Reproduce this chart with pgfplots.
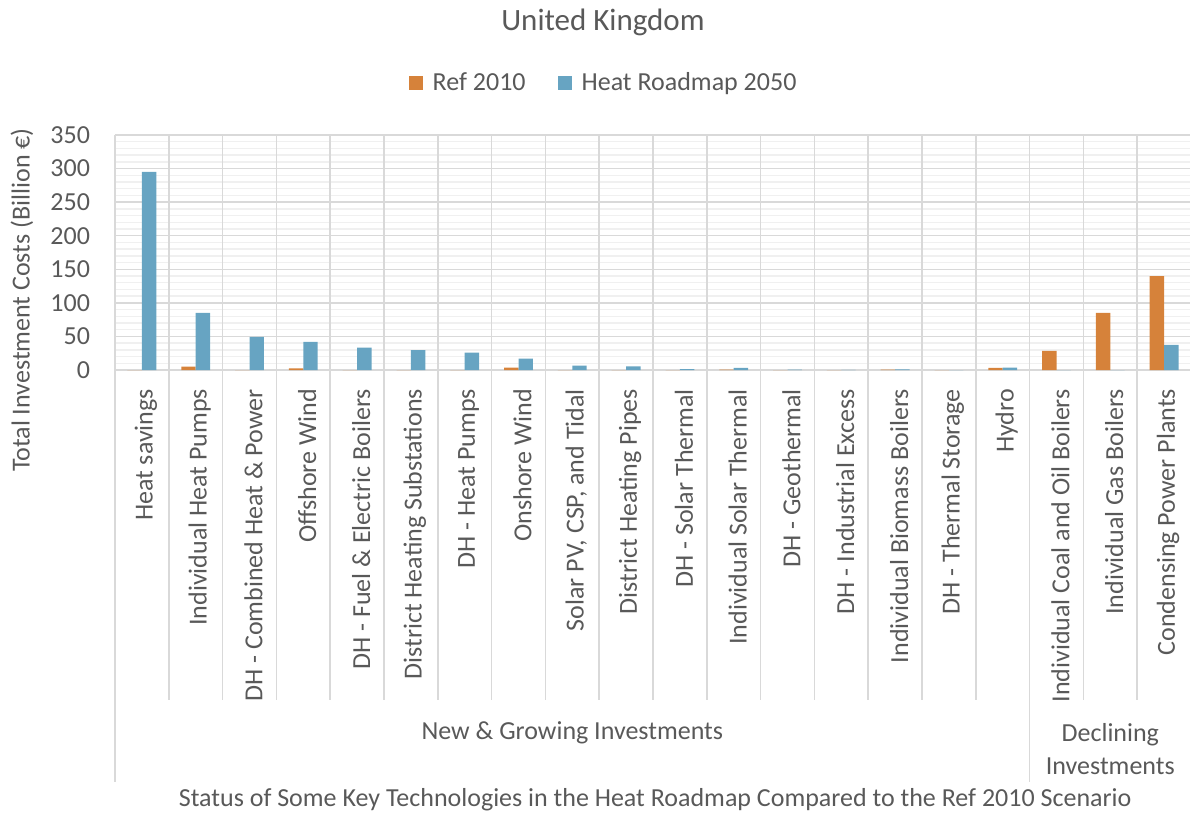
\documentclass[border=0pt]{standalone}
\usepackage{pgfplots}
\pgfplotsset{compat=1.18}
\usepackage{pgfplotstable}
\usepackage{fontspec}
\setmainfont{Carlito}

\definecolor{refc}{HTML}{D6823A}
\definecolor{hrc}{HTML}{67A4C2}
\definecolor{txt}{HTML}{595959}
\definecolor{majg}{HTML}{D9D9D9}
\definecolor{ming}{HTML}{F0F0F0}

% investment costs, billion EUR
\pgfplotstableread{
idx ref hr
0  0    295
1  5    85
2  0    49.5
3  2.5  42
4  0    33.5
5  0    29.5
6  0    26
7  3.5  17
8  0    6.5
9  0    5.5
10 0    1.5
11 0.5  3
12 0    0.7
13 0    0.3
14 0.5  1
15 0    0
16 3    3.5
17 28.5 0
18 85   0
19 140  37.5
}\costs

\begin{document}
\begin{tikzpicture}
\begin{axis}[
    name=ax,
    scale only axis,
    width=538pt, height=117.5pt,
    xmin=-0.5, xmax=19.5,
    ymin=0, ymax=350,
    clip=false,
    ybar=0pt, bar width=7.2pt,
    axis x line*=bottom, axis y line*=left,
    axis line style={majg, line width=0.75pt, -},
    xtick={0,...,19},
    xticklabels={Heat savings, Individual Heat Pumps, DH - Combined Heat \& Power,
      Offshore Wind, DH - Fuel \& Electric Boilers, District Heating Substations,
      DH - Heat Pumps, Onshore Wind, {Solar PV, CSP, and Tidal}, District Heating Pipes,
      DH - Solar Thermal, Individual Solar Thermal, DH - Geothermal,
      DH - Industrial Excess, Individual Biomass Boilers, DH - Thermal Storage,
      Hydro, Individual Coal and Oil Boilers, Individual Gas Boilers,
      Condensing Power Plants},
    ytick={0,50,...,350},
    minor y tick num=4,
    ymajorgrids, yminorgrids,
    major grid style={majg, line width=0.75pt},
    minor grid style={ming, line width=0.75pt},
    major tick length=0pt, minor tick length=0pt,
    tick label style={font=\fontsize{13}{15.5}\selectfont, text=txt},
    /pgf/number format/assume math mode=true,
    yticklabel style={xshift=-9pt},
    xticklabel style={rotate=90, anchor=east, xshift=-6pt, yshift=-2pt},
    legend style={at={(0.455,1.221)}, anchor=center, draw=none, fill=none,
      font=\fontsize{13}{15.5}\selectfont, text=txt,
      /tikz/every even column/.append style={column sep=14pt}},
    legend columns=2,
    legend image code/.code={\fill[#1] (0pt,-3.5pt) rectangle (7pt,3.5pt);
      \path (10pt,0pt);},
]
% category separators
\pgfplotsinvokeforeach{0.5,1.5,...,15.5}{
  \draw[majg, line width=0.75pt] (axis cs:#1,350) -- (axis cs:#1,-491.5);
}
\pgfplotsinvokeforeach{17.5,18.5}{
  \draw[majg, line width=0.75pt] (axis cs:#1,350) -- (axis cs:#1,-491.5);
}
% group separators
\pgfplotsinvokeforeach{-0.5,16.5,19.5}{
  \draw[majg, line width=0.75pt] (axis cs:#1,350) -- (axis cs:#1,-613.6);
}

\addplot[fill=refc, draw=none] table[x=idx, y=ref] {\costs};
\addlegendentry{Ref 2010}
\addplot[fill=hrc, draw=none] table[x=idx, y=hr] {\costs};
\addlegendentry{Heat Roadmap 2050}

\node[text=txt, font=\fontsize{15.5}{18}\selectfont] at (axis cs:8.57,518.3) {United Kingdom};
\node[text=txt, font=\fontsize{13}{15.5}\selectfont, rotate=90] at (axis cs:-2.23,104.3)
  {Total Investment Costs (Billion €)};
\node[text=txt, font=\fontsize{13}{15.5}\selectfont] at (axis cs:8,-540.6)
  {New \& Growing Investments};
\node[text=txt, font=\fontsize{13}{16.5}\selectfont, align=center] at (axis cs:18,-565)
  {Declining\\Investments};
\node[text=txt, font=\fontsize{13}{15.5}\selectfont] at (axis cs:9.54,-640.4)
  {Status of Some Key Technologies in the Heat Roadmap Compared to the Ref 2010 Scenario};
\end{axis}
\pgfresetboundingbox
\path ([xshift=-57.5pt,yshift=-222pt]ax.south west) rectangle ([xshift=-0.5pt,yshift=67.5pt]ax.north east);
\end{tikzpicture}
\end{document}
